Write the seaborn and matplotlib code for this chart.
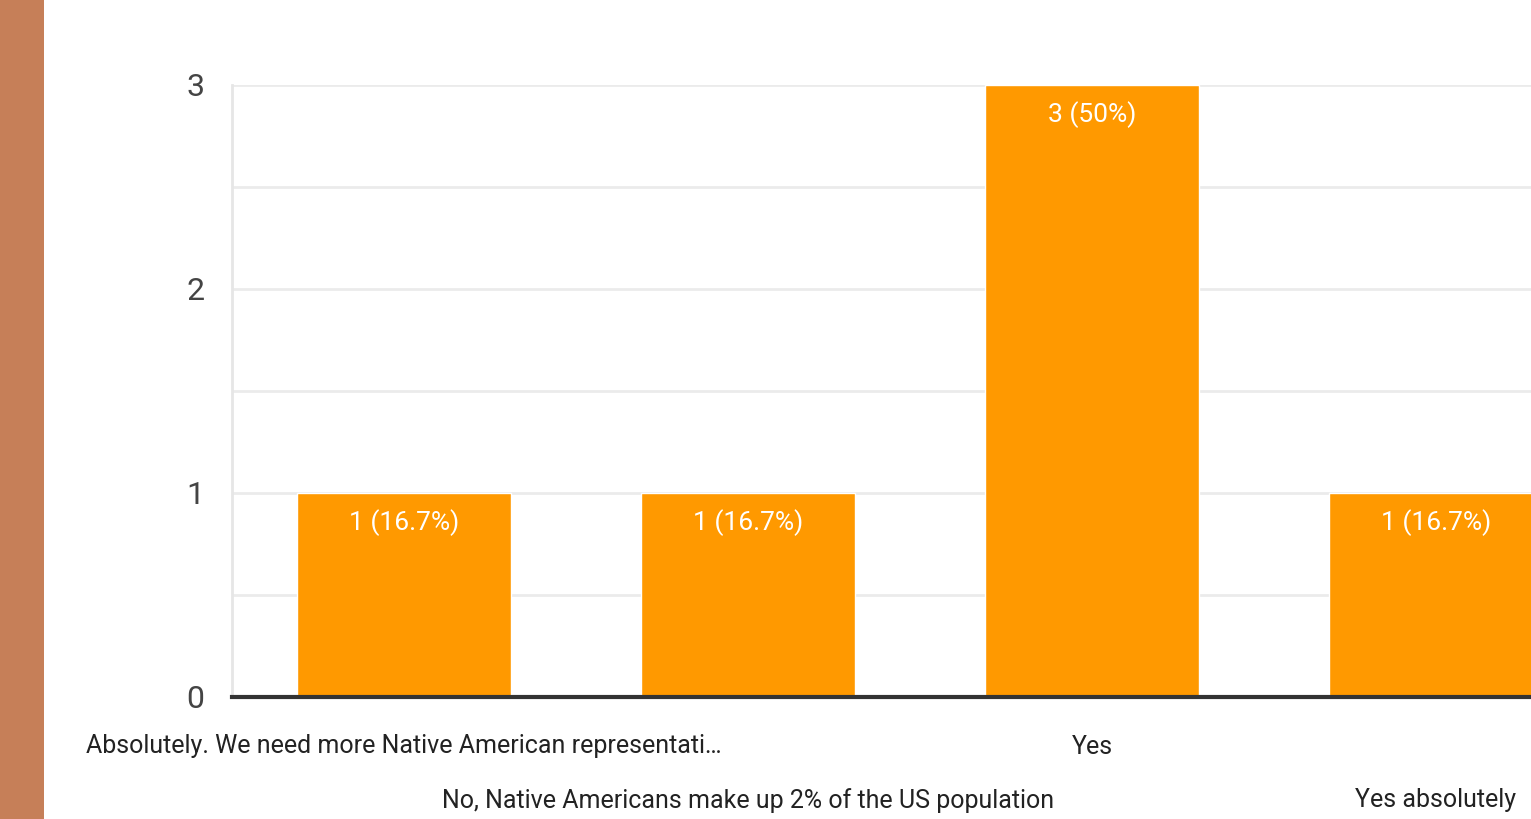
import matplotlib
matplotlib.use("Agg")
import matplotlib.pyplot as plt
import seaborn as sns
import pandas as pd
from matplotlib.patches import Rectangle

categories = [
    "Absolutely. We need more Native American representati…",
    "No, Native Americans make up 2% of the US population",
    "Yes",
    "Yes absolutely",
]
counts = [1, 1, 3, 1]
bar_labels = ["1 (16.7%)", "1 (16.7%)", "3 (50%)", "1 (16.7%)"]

sns.set_theme(style="white")
fams = ["Roboto", "Liberation Sans", "DejaVu Sans"]
plt.rcParams["font.family"] = fams

df = pd.DataFrame({"cat": categories, "n": counts})

fig = plt.figure(figsize=(15.31, 8.19), dpi=100)
fig.patches.append(Rectangle((0, 0), 44 / 1531, 1, transform=fig.transFigure,
                             facecolor="#C67F58", edgecolor="none", zorder=0))
ax = fig.add_axes([232 / 1531, 1 - 697 / 819, 1376 / 1531, 612 / 819])

sns.barplot(data=df, x="cat", y="n", color="#FF9900", saturation=1, width=0.62,
            ax=ax, zorder=3)
ax.set_xlim(-0.5, 3.5)
ax.set_ylim(0, 3)
ax.set_yticks([0, 0.5, 1, 1.5, 2, 2.5, 3])
ax.set_yticklabels(["0", "", "1", "", "2", "", "3"])
ax.grid(axis="y", color="#ebebeb", linewidth=2, zorder=0)
ax.set_xlabel("")
ax.set_ylabel("")
for s in ["top", "right"]:
    ax.spines[s].set_visible(False)
ax.spines["left"].set_color("#e6e6e6")
ax.spines["left"].set_linewidth(2)
ax.spines["bottom"].set_color("#333333")
ax.spines["bottom"].set_linewidth(3)
ax.spines["bottom"].set_zorder(5)
ax.tick_params(axis="y", length=0, pad=20, labelsize=23, labelcolor="#444444")
ax.tick_params(axis="x", length=0, pad=27, labelsize=18, labelcolor="#222222")

ax.set_xticks(range(len(categories)))
ax.set_xticklabels(categories)
for i, lab in enumerate(ax.get_xticklabels()):
    if i % 2 == 1:
        lab.set_y(-0.087)

for i, (v, t) in enumerate(zip(counts, bar_labels)):
    ax.annotate(t, (i, v), xytext=(0, -30), textcoords="offset pixels",
                ha="center", va="center", color="white", fontsize=19, zorder=6)

fig.savefig("out.png", dpi=100, facecolor="white")
